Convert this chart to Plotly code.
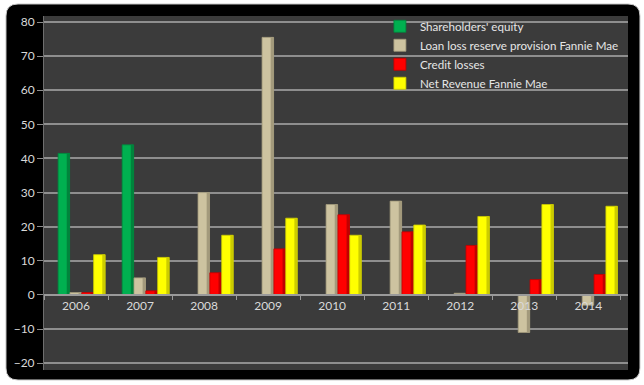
import plotly.graph_objects as go

years = ["2006", "2007", "2008", "2009", "2010", "2011", "2012", "2013", "2014"]
shareholders_equity = [41.5, 44.0, None, None, None, None, None, None, None]
loan_loss_reserve = [0.7, 5.0, 30.0, 75.5, 26.5, 27.5, 0.5, -11.0, -3.0]
credit_losses = [0.7, 1.2, 6.5, 13.5, 23.5, 18.5, 14.5, 4.5, 6.0]
net_revenue = [11.8, 11.0, 17.5, 22.5, 17.5, 20.5, 23.0, 26.5, 26.0]
y_ticks = [-20, -10, 0, 10, 20, 30, 40, 50, 60, 70, 80]

series = [
    ("Shareholders' equity", shareholders_equity, "#00b050", "#00843c"),
    ("Loan loss reserve provision Fannie Mae", loan_loss_reserve, "#cdc3a0", "#a39a7c"),
    ("Credit losses", credit_losses, "#ff0000", "#c00000"),
    ("Net Revenue Fannie Mae", net_revenue, "#ffff00", "#cccc00"),
]

FONT = "Lato"
bar_w = 0.18
side_w = 0.045
offsets = [-0.28, -0.095, 0.09, 0.275]

fig = go.Figure()
for (name, vals, col, edge), off in zip(series, offsets):
    fig.add_trace(go.Bar(
        x=years, y=vals, name=name,
        marker=dict(color=col, line=dict(color=edge, width=0.8)),
        width=bar_w, offset=off,
    ))
    # darker right side strip for a 3-D look
    fig.add_trace(go.Bar(
        x=years, y=vals, name=name, showlegend=False, hoverinfo="skip",
        marker=dict(color=edge, line=dict(width=0)),
        width=side_w, offset=off + bar_w - side_w,
    ))

# plot-area placement in pixels
L, T, W, H = 44, 16, 584, 354
def P(px, py):
    return f"{(px - L) / W:.4f},{(T + H - py) / H:.4f}"

# outer black rounded frame
x0, y0, x1, y1, r = 6, 4, 640, 380, 12
frame = (f"M {P(x0+r, y0)} L {P(x1-r, y0)} Q {P(x1, y0)} {P(x1, y0+r)} "
         f"L {P(x1, y1-r)} Q {P(x1, y1)} {P(x1-r, y1)} L {P(x0+r, y1)} "
         f"Q {P(x0, y1)} {P(x0, y1-r)} L {P(x0, y0+r)} Q {P(x0, y0)} {P(x0+r, y0)} Z")

ymin, ymax = -22, 81.76
zero_frac = (0 - ymin) / (ymax - ymin)

fig.update_layout(
    width=644, height=385,
    margin=dict(l=L, r=644 - L - W, t=T, b=385 - T - H),
    paper_bgcolor="white",
    plot_bgcolor="#3b3b3b",
    font=dict(family=FONT, size=12, color="#d9d9d9"),
    barmode="overlay",
    showlegend=True,
    legend=dict(
        x=0.993, y=1.012, xanchor="right", yanchor="top",
        bgcolor="rgba(0,0,0,0)",
        font=dict(family=FONT, size=11.6, color="#e6e6e6"),
        tracegroupgap=0, itemwidth=30,
    ),
    shapes=[
        dict(type="path", path=frame, xref="paper", yref="paper",
             fillcolor="black", line=dict(color="#c8c8c8", width=1), layer="below"),
        dict(type="rect", x0=0, x1=1, y0=0, y1=1, xref="paper", yref="paper",
             fillcolor="#3b3b3b", line=dict(width=0), layer="below"),
    ],
    xaxis=dict(
        type="category", range=[-0.5, 8.62],
        anchor="free", position=zero_frac,
        showline=True, linecolor="#9a9a9a", linewidth=1.5,
        ticks="outside", tickson="boundaries", ticklen=4, tickcolor="#9a9a9a",
        showgrid=False, tickfont=dict(family=FONT, size=12, color="#d9d9d9"),
    ),
    yaxis=dict(
        range=[ymin, ymax], tickvals=y_ticks,
        showgrid=True, gridcolor="#8e8e8e", gridwidth=1.5,
        zeroline=False,
        showline=True, linecolor="#6e6e6e", linewidth=1,
        ticks="outside", ticklen=6, tickcolor="#8c8c8c",
        tickfont=dict(family=FONT, size=12, color="#d9d9d9"),
    ),
)

fig.write_html("out.html", config={"displayModeBar": False},
               post_script="document.body.style.margin='0';")
